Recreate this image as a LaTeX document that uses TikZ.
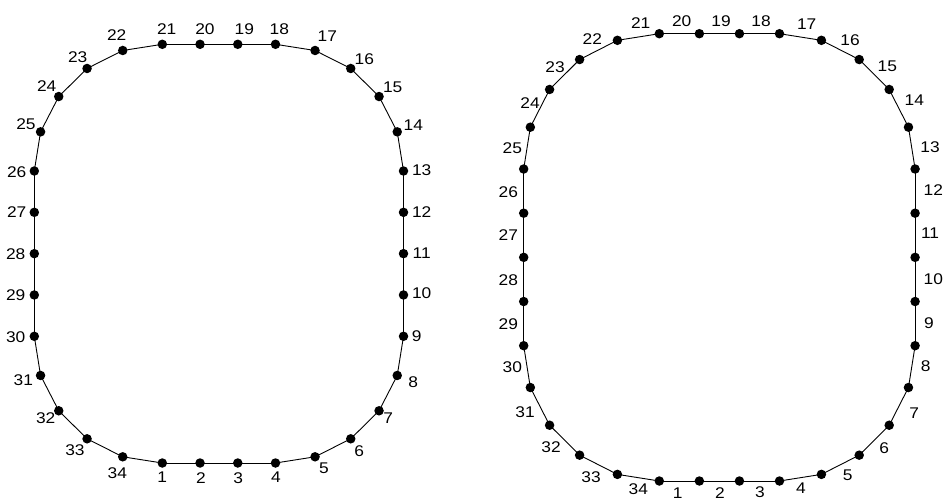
\documentclass[tikz,border=0pt]{standalone}
\usepackage{fontspec}
\newfontfamily\lblfont[FakeStretch=1.12]{Liberation Sans}
\usetikzlibrary{calc}
\tikzset{
  pt/.style={circle, fill=black, inner sep=0pt, minimum size=9.5pt},
  lbl/.style={font=\lblfont\fontsize{15.5}{16}\selectfont, inner sep=0pt, text=black},
  edge/.style={line width=0.9pt, draw=black},
}
% #1 prefix, #2 X1, #3 X2, #4 Y1, #5 Y2, #6 rx, #7 ry
\newcommand\rrpoints[7]{%
  \foreach \n/\fx/\fy/\a in {1/0/1/90, 2/0.33333/1/90, 3/0.66667/1/90, 4/1/1/90,
      5/1/1/72, 6/1/1/54, 7/1/1/36, 8/1/1/18, 9/1/1/0,
      10/1/0.75/0, 11/1/0.5/0, 12/1/0.25/0, 13/1/0/0,
      14/1/0/-18, 15/1/0/-36, 16/1/0/-54, 17/1/0/-72, 18/1/0/-90,
      19/0.66667/0/-90, 20/0.33333/0/-90, 21/0/0/-90,
      22/0/0/-108, 23/0/0/-126, 24/0/0/-144, 25/0/0/-162, 26/0/0/180,
      27/0/0.25/180, 28/0/0.5/180, 29/0/0.75/180, 30/0/1/180,
      31/0/1/162, 32/0/1/144, 33/0/1/126, 34/0/1/108}{
    \node[pt] (#1\n) at ({#2+\fx*(#3-#2)+#6*cos(\a)}, {#4+\fy*(#5-#4)+#7*sin(\a)}) {};
  }%
  \foreach \i [evaluate=\i as \j using {int(mod(\i,34)+1)}] in {1,...,34}{
    \draw[edge] (#1\i.center) -- (#1\j.center);
  }%
}
\begin{document}
\begin{tikzpicture}[x=1pt,y=-1pt]
  \fill[white] (0,0) rectangle (945,500);
  \useasboundingbox (0,0) rectangle (945,500);

  % left outline
  \rrpoints{L}{162.3}{275.5}{171}{336.3}{128}{126.7}
  % right outline
  \rrpoints{R}{659.3}{779.5}{169}{345.7}{135.6}{135.3}

  % left labels
  \foreach \t/\x/\y in {1/162.3/476.7, 2/201/477.7, 3/238.3/477.7, 4/276/476.7,
      5/324/468.3, 6/359.3/451, 7/388.3/418.3, 8/413.3/381.7, 9/416.7/336,
      10/421.7/293.3, 11/421.7/253, 12/421.7/212, 13/421.7/170,
      14/413.3/125, 15/392.7/87.7, 16/364.3/59.3, 17/327.3/36,
      18/279.3/29.3, 19/244.3/29.3, 20/205/29.3, 21/166.7/29.3,
      22/116.7/35, 23/77.7/57.3, 24/46.7/86, 25/26/124.3, 26/16.7/171.7,
      27/16.7/212, 28/15.7/254, 29/15.7/295, 30/15.7/336.7,
      31/23.3/380, 32/45.7/418.3, 33/75/450, 34/117.3/472.7}{
    \node[lbl] (Lt\t) at (\x,\y) {\t};
  }

  % right labels
  \foreach \t/\x/\y in {1/677.7/492.7, 2/720/492.7, 3/760/491.7, 4/801/488.3,
      5/847.7/475, 6/884.3/448.3, 7/914.3/412.7, 8/925.7/366, 9/929/322.7,
      10/933.3/279.3, 11/930/233.3, 12/933.3/190, 13/930/146.7,
      14/914.3/100, 15/887.3/66.7, 16/850/40, 17/806.7/24,
      18/761/20.7, 19/721/20.7, 20/681.7/20.7, 21/640.7/23.3,
      22/592.3/39.3, 23/555/66.7, 24/530/103.3, 25/512.3/148.3, 26/508.3/191.7,
      27/508.3/235, 28/508.3/280, 29/508.3/324, 30/512.3/366.7,
      31/525/411.7, 32/551/446.7, 33/591/476.7, 34/638.3/489.3}{
    \node[lbl] (Rt\t) at (\x,\y) {\t};
  }
\end{tikzpicture}
\end{document}
